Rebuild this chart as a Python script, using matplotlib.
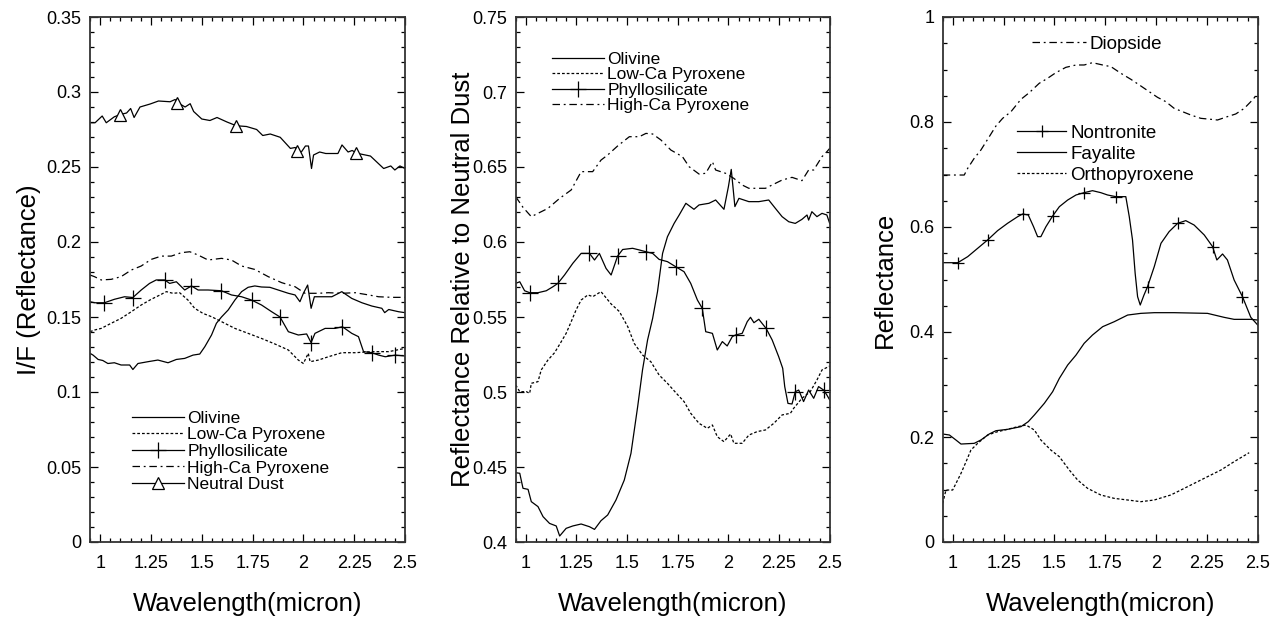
import numpy as np
import matplotlib
matplotlib.use("Agg")
import matplotlib.pyplot as plt
from matplotlib.ticker import MultipleLocator, FuncFormatter

plt.rcParams['font.family'] = ['Liberation Sans', 'DejaVu Sans']

# ---- panel 1: I/F spectra
olivine_1 = [(0.95, 0.1258), (0.965, 0.1246), (0.99, 0.1217), (1.013, 0.121), (1.038, 0.119), (1.07, 0.1195),
             (1.103, 0.118), (1.145, 0.118), (1.161, 0.115), (1.186, 0.119), (1.235, 0.1202), (1.284, 0.1213),
             (1.334, 0.1195), (1.375, 0.1217), (1.416, 0.1224), (1.457, 0.1246), (1.49, 0.1253), (1.515, 0.1302),
             (1.548, 0.138), (1.572, 0.1458), (1.597, 0.150), (1.63, 0.1547), (1.663, 0.1613), (1.696, 0.1669),
             (1.728, 0.1698), (1.761, 0.1707), (1.794, 0.170), (1.835, 0.1698), (1.876, 0.168), (1.926, 0.1658),
             (1.959, 0.1647), (1.983, 0.1602), (2.0, 0.1658), (2.021, 0.1713), (2.038, 0.1558), (2.054, 0.1635),
             (2.09, 0.1635), (2.14, 0.1635), (2.189, 0.1669), (2.238, 0.1624), (2.288, 0.1595), (2.337, 0.1573),
             (2.386, 0.1558), (2.40, 0.1529), (2.42, 0.155), (2.469, 0.1535), (2.5, 0.1529)]
lowca_1 = [(0.95, 0.1402), (0.972, 0.1413), (1.005, 0.1424), (1.054, 0.1458), (1.103, 0.1491), (1.153, 0.1535),
           (1.202, 0.158), (1.251, 0.1618), (1.293, 0.1646), (1.326, 0.1669), (1.358, 0.1658), (1.391, 0.1662),
           (1.432, 0.1613), (1.465, 0.1558), (1.506, 0.1524), (1.548, 0.1502), (1.597, 0.1469), (1.663, 0.1424),
           (1.728, 0.1391), (1.794, 0.1357), (1.86, 0.132), (1.926, 0.128), (1.975, 0.1213), (2.0, 0.119),
           (2.024, 0.1258), (2.033, 0.1202), (2.074, 0.1213), (2.123, 0.1235), (2.189, 0.1262), (2.255, 0.1262),
           (2.337, 0.1269), (2.42, 0.1269), (2.5, 0.1291)]
phyllo_1 = [(0.95, 0.1602), (0.972, 0.1595), (1.021, 0.1595), (1.07, 0.1618), (1.12, 0.1635), (1.161, 0.163),
            (1.202, 0.168), (1.243, 0.1724), (1.276, 0.1747), (1.317, 0.1747), (1.342, 0.1724), (1.375, 0.1735),
            (1.416, 0.168), (1.449, 0.1707), (1.482, 0.168), (1.531, 0.168), (1.597, 0.1675), (1.646, 0.1647),
            (1.696, 0.1635), (1.745, 0.1613), (1.794, 0.158), (1.844, 0.1535), (1.885, 0.150), (1.926, 0.1402),
            (1.975, 0.138), (2.016, 0.1387), (2.038, 0.1329), (2.057, 0.1391), (2.107, 0.1424), (2.156, 0.1424),
            (2.192, 0.1435), (2.238, 0.1391), (2.271, 0.1369), (2.296, 0.1269), (2.337, 0.1262), (2.37, 0.1246),
            (2.403, 0.1235), (2.452, 0.1246), (2.5, 0.124)]
highca_1 = [(0.95, 0.178), (0.972, 0.1769), (1.005, 0.1747), (1.054, 0.1751), (1.103, 0.1769), (1.153, 0.1813),
            (1.202, 0.184), (1.251, 0.1884), (1.301, 0.1906), (1.35, 0.1906), (1.40, 0.1929), (1.441, 0.1935),
            (1.482, 0.1913), (1.531, 0.188), (1.597, 0.1891), (1.646, 0.188), (1.696, 0.184), (1.761, 0.1817),
            (1.827, 0.1769), (1.893, 0.1729), (1.959, 0.1702), (2.008, 0.1658), (2.074, 0.1658), (2.123, 0.1662),
            (2.189, 0.1658), (2.255, 0.1662), (2.321, 0.1647), (2.37, 0.1635), (2.436, 0.1631), (2.5, 0.1631)]
dust_1 = [(0.95, 0.2795), (0.975, 0.2795), (1.01, 0.284), (1.03, 0.2795), (1.07, 0.2835), (1.10, 0.285),
          (1.13, 0.286), (1.15, 0.289), (1.167, 0.283), (1.196, 0.290), (1.246, 0.292), (1.287, 0.294),
          (1.344, 0.2935), (1.369, 0.295), (1.38, 0.293), (1.418, 0.290), (1.443, 0.2922), (1.46, 0.287),
          (1.50, 0.282), (1.54, 0.281), (1.575, 0.283), (1.624, 0.280), (1.67, 0.2775), (1.72, 0.277),
          (1.77, 0.275), (1.80, 0.271), (1.837, 0.272), (1.886, 0.2698), (1.936, 0.2624), (1.96, 0.263),
          (1.97, 0.2605), (1.99, 0.260), (2.01, 0.264), (2.025, 0.264), (2.04, 0.249), (2.05, 0.258), (2.08, 0.26),
          (2.11, 0.259), (2.17, 0.259), (2.19, 0.2647), (2.22, 0.26), (2.24, 0.261), (2.26, 0.2595), (2.28, 0.2587),
          (2.33, 0.2573), (2.395, 0.249), (2.43, 0.2507), (2.45, 0.248), (2.475, 0.2507), (2.5, 0.249)]
phyllo_marks_1 = [1.021, 1.161, 1.317, 1.449, 1.597, 1.745, 1.885, 2.038, 2.192, 2.337, 2.452]
dust_marks_1 = [1.10, 1.38, 1.67, 1.97, 2.26]

# ---- panel 2: ratio to neutral dust
olivine_2 = [(0.95, 0.4462), (0.97, 0.4458), (0.986, 0.4358), (1.011, 0.4351), (1.027, 0.4269), (1.06, 0.4236),
             (1.085, 0.4169), (1.117, 0.4124), (1.15, 0.4107), (1.167, 0.404), (1.199, 0.4091), (1.232, 0.4107),
             (1.273, 0.412), (1.314, 0.4102), (1.339, 0.4084), (1.371, 0.4142), (1.404, 0.418), (1.445, 0.428),
             (1.486, 0.4413), (1.519, 0.4591), (1.552, 0.4902), (1.576, 0.5147), (1.601, 0.5347), (1.626, 0.5491),
             (1.65, 0.5669), (1.675, 0.5924), (1.699, 0.6035), (1.732, 0.6124), (1.757, 0.618), (1.79, 0.6258),
             (1.83, 0.6218), (1.855, 0.6247), (1.904, 0.6258), (1.937, 0.628), (1.978, 0.6218), (2.0, 0.6369),
             (2.014, 0.6484), (2.032, 0.6236), (2.052, 0.6291), (2.101, 0.6269), (2.15, 0.6269), (2.199, 0.628),
             (2.232, 0.6224), (2.265, 0.6169), (2.298, 0.6135), (2.33, 0.6124), (2.363, 0.6151), (2.388, 0.618),
             (2.396, 0.6146), (2.412, 0.6202), (2.437, 0.6169), (2.462, 0.6191), (2.486, 0.618), (2.5, 0.6124)]
lowca_2 = [(0.95, 0.5047), (0.97, 0.5002), (1.003, 0.5002), (1.019, 0.4991), (1.027, 0.5058), (1.06, 0.5069),
           (1.076, 0.5147), (1.109, 0.5213), (1.142, 0.5262), (1.175, 0.5336), (1.199, 0.5391), (1.224, 0.5469),
           (1.248, 0.5547), (1.273, 0.5613), (1.306, 0.5647), (1.331, 0.5636), (1.371, 0.5669), (1.421, 0.5587),
           (1.462, 0.5536), (1.503, 0.5436), (1.535, 0.5324), (1.576, 0.5247), (1.617, 0.5202), (1.658, 0.5113),
           (1.699, 0.5058), (1.74, 0.4996), (1.781, 0.4936), (1.814, 0.4858), (1.855, 0.4791), (1.896, 0.4758),
           (1.921, 0.478), (1.945, 0.4702), (1.978, 0.4669), (2.011, 0.4720), (2.027, 0.4658), (2.068, 0.4658),
           (2.101, 0.4713), (2.142, 0.4736), (2.183, 0.4747), (2.224, 0.4791), (2.265, 0.4847), (2.306, 0.4858),
           (2.322, 0.4891), (2.363, 0.4958), (2.404, 0.5002), (2.437, 0.508), (2.462, 0.5147), (2.5, 0.5173)]
phyllo_2 = [(0.95, 0.5724), (0.97, 0.5735), (0.994, 0.5675), (1.019, 0.5662), (1.06, 0.5662), (1.101, 0.5675),
            (1.134, 0.5702), (1.158, 0.5724), (1.191, 0.578), (1.232, 0.5858), (1.273, 0.5924), (1.314, 0.5924),
            (1.339, 0.588), (1.363, 0.5924), (1.396, 0.5824), (1.421, 0.578), (1.453, 0.5906), (1.478, 0.595),
            (1.527, 0.5958), (1.56, 0.5947), (1.593, 0.5935), (1.626, 0.5924), (1.658, 0.5884), (1.699, 0.5869),
            (1.74, 0.5835), (1.781, 0.5802), (1.814, 0.5724), (1.847, 0.5613), (1.871, 0.5558), (1.888, 0.5402),
            (1.921, 0.5391), (1.945, 0.528), (1.97, 0.5336), (1.994, 0.5307), (2.019, 0.5369), (2.035, 0.538),
            (2.068, 0.5391), (2.093, 0.5469), (2.109, 0.5498), (2.126, 0.5462), (2.15, 0.5485), (2.186, 0.5424),
            (2.216, 0.5347), (2.248, 0.5236), (2.268, 0.5158), (2.278, 0.5036), (2.294, 0.4924), (2.314, 0.492),
            (2.33, 0.5002), (2.347, 0.5013), (2.371, 0.4936), (2.396, 0.5013), (2.421, 0.4958), (2.445, 0.5036),
            (2.47, 0.5013), (2.486, 0.4980), (2.5, 0.4947)]
highca_2 = [(0.95, 0.6302), (0.986, 0.6231), (1.027, 0.6169), (1.109, 0.6224), (1.167, 0.6291), (1.224, 0.6347),
            (1.273, 0.6469), (1.33, 0.6469), (1.371, 0.6546), (1.404, 0.658), (1.453, 0.664), (1.511, 0.6702),
            (1.56, 0.6702), (1.593, 0.6724), (1.626, 0.672), (1.667, 0.668), (1.716, 0.6613), (1.773, 0.6569),
            (1.806, 0.6502), (1.855, 0.6453), (1.888, 0.6458), (1.921, 0.6535), (1.937, 0.648), (1.986, 0.6458),
            (2.027, 0.6424), (2.068, 0.6380), (2.101, 0.6358), (2.183, 0.6358), (2.232, 0.6391), (2.265, 0.6413),
            (2.314, 0.6431), (2.363, 0.6409), (2.396, 0.648), (2.421, 0.648), (2.462, 0.6569), (2.486, 0.6602),
            (2.5, 0.6624)]
phyllo_marks_2 = [1.019, 1.158, 1.314, 1.453, 1.593, 1.74, 1.871, 2.035, 2.186, 2.33, 2.47]

# ---- panel 3: library spectra
diopside = [(0.95, 0.699), (1.056, 0.699), (1.073, 0.7118), (1.105, 0.7308), (1.138, 0.7467), (1.171, 0.7670),
            (1.212, 0.7924), (1.245, 0.8070), (1.286, 0.8197), (1.335, 0.8432), (1.376, 0.8559), (1.425, 0.8737),
            (1.466, 0.8832), (1.507, 0.8940), (1.556, 0.9041), (1.606, 0.9086), (1.646, 0.9086), (1.687, 0.9130),
            (1.737, 0.9086), (1.778, 0.9054), (1.827, 0.8927), (1.876, 0.8813), (1.925, 0.8686), (1.966, 0.8578),
            (2.007, 0.8470), (2.048, 0.8387), (2.089, 0.8260), (2.13, 0.8197), (2.171, 0.8133), (2.22, 0.8070),
            (2.27, 0.8051), (2.302, 0.8038), (2.351, 0.8102), (2.392, 0.8153), (2.434, 0.8260), (2.466, 0.8387),
            (2.5, 0.8534)]
nontronite = [(0.95, 0.532), (1.024, 0.532), (1.073, 0.5435), (1.122, 0.5594), (1.171, 0.5753), (1.220, 0.5930),
              (1.269, 0.607), (1.319, 0.6197), (1.343, 0.6248), (1.371, 0.6229), (1.397, 0.6006), (1.417, 0.5816),
              (1.433, 0.5816), (1.458, 0.6006), (1.491, 0.621), (1.524, 0.6387), (1.565, 0.6514), (1.606, 0.6610),
              (1.646, 0.6654), (1.687, 0.6692), (1.728, 0.6654), (1.761, 0.6610), (1.802, 0.6578), (1.851, 0.6578),
              (1.868, 0.6197), (1.884, 0.5753), (1.897, 0.5118), (1.909, 0.4673), (1.922, 0.4514), (1.94, 0.47),
              (1.958, 0.4864), (1.991, 0.5245), (2.024, 0.5689), (2.064, 0.5911), (2.106, 0.607), (2.146, 0.6121),
              (2.187, 0.6038), (2.237, 0.5848), (2.278, 0.5626), (2.299, 0.5372), (2.327, 0.5486), (2.351, 0.5372),
              (2.384, 0.4991), (2.425, 0.4673), (2.466, 0.428), (2.5, 0.4133)]
fayalite = [(0.95, 0.2057), (0.983, 0.2038), (1.015, 0.1943), (1.04, 0.1866), (1.105, 0.1879), (1.138, 0.1943),
            (1.179, 0.2057), (1.212, 0.212), (1.269, 0.2146), (1.335, 0.2197), (1.371, 0.2292), (1.401, 0.2419),
            (1.45, 0.2641), (1.491, 0.2863), (1.524, 0.3117), (1.565, 0.3371), (1.606, 0.3561), (1.646, 0.3784),
            (1.687, 0.3942), (1.737, 0.4101), (1.794, 0.4196), (1.86, 0.4323), (1.925, 0.4355), (1.991, 0.4368),
            (2.089, 0.4368), (2.253, 0.4355), (2.335, 0.4279), (2.384, 0.4241), (2.466, 0.4241), (2.5, 0.4228)]
orthopyroxene = [(0.95, 0.0736), (0.966, 0.099), (0.999, 0.099), (1.04, 0.1307), (1.065, 0.153), (1.089, 0.1752),
                 (1.122, 0.1879), (1.171, 0.2038), (1.22, 0.2101), (1.269, 0.2146), (1.319, 0.2197), (1.36, 0.2228),
                 (1.401, 0.2133), (1.433, 0.1943), (1.482, 0.1752), (1.524, 0.1625), (1.573, 0.1371), (1.614, 0.118),
                 (1.663, 0.1022), (1.728, 0.0895), (1.794, 0.0831), (1.86, 0.0800), (1.925, 0.0768), (1.991, 0.08),
                 (2.072, 0.0895), (2.122, 0.099), (2.204, 0.1149), (2.253, 0.1244), (2.319, 0.1371), (2.384, 0.153),
                 (2.458, 0.1701)]
nontronite_marks = [1.024, 1.171, 1.343, 1.491, 1.646, 1.802, 1.958, 2.106, 2.278, 2.425]

x_ticks = [1, 1.25, 1.5, 1.75, 2, 2.25, 2.5]

solid = '-'
dotted = (0, (2.2, 1.6))
dashdot = (0, (6, 3, 1.5, 3))
lw = 0.9


def xy(pairs):
    a = np.array(pairs)
    return a[:, 0], a[:, 1]


def idx(x, marks):
    return [int(np.abs(x - m).argmin()) for m in marks]


def style(ax, ymin, ymax, major, minor, ylabel, pad):
    ax.set_xlim(0.95, 2.5)
    ax.set_ylim(ymin, ymax)
    ax.set_xticks(x_ticks)
    ax.xaxis.set_minor_locator(MultipleLocator(0.05))
    ax.yaxis.set_major_locator(MultipleLocator(major))
    ax.yaxis.set_minor_locator(MultipleLocator(minor))
    fmt = FuncFormatter(lambda v, p: '%g' % round(v, 4))
    ax.xaxis.set_major_formatter(fmt)
    ax.yaxis.set_major_formatter(fmt)
    ax.tick_params(which='both', direction='in', top=True, right=True, width=0.9, colors='black', labelsize=13)
    ax.tick_params(which='major', length=6)
    ax.tick_params(which='minor', length=3)
    ax.tick_params(axis='x', pad=9)
    ax.tick_params(axis='y', pad=6)
    for s in ax.spines.values():
        s.set_linewidth(1.3)
        s.set_color('#333333')
    ax.set_xlabel('Wavelength(micron)', fontsize=18.5, labelpad=15)
    ax.set_ylabel(ylabel, fontsize=18.5, labelpad=pad)


def legend(ax, handles, anchor, size, hl, spacing):
    return ax.legend(handles=handles, loc='upper left', bbox_to_anchor=anchor, frameon=False, fontsize=size,
                     handlelength=hl, handletextpad=0.2, labelspacing=spacing, borderpad=0, borderaxespad=0,
                     numpoints=1)


fig = plt.figure(figsize=(12.81, 6.26), dpi=100)
ax1 = fig.add_axes([90 / 1281, 84 / 626, 315 / 1281, 525 / 626])
ax2 = fig.add_axes([515.7 / 1281, 84 / 626, 314 / 1281, 525 / 626])
ax3 = fig.add_axes([942.7 / 1281, 84 / 626, 315 / 1281, 525 / 626])

# panel 1
x, y = xy(olivine_1)
l1, = ax1.plot(x, y, color='black', lw=lw, ls=solid, label='Olivine')
x, y = xy(lowca_1)
l2, = ax1.plot(x, y, color='black', lw=lw, ls=dotted, label='Low-Ca Pyroxene')
x, y = xy(phyllo_1)
l3, = ax1.plot(x, y, color='black', lw=lw, ls=solid, marker='+', ms=12, mew=0.9,
               markevery=idx(x, phyllo_marks_1), label='Phyllosilicate')
x, y = xy(highca_1)
l4, = ax1.plot(x, y, color='black', lw=lw, ls=dashdot, label='High-Ca Pyroxene')
x, y = xy(dust_1)
l5, = ax1.plot(x, y, color='black', lw=lw, ls=solid, marker='^', ms=9, mew=0.9, mfc='white',
               markevery=idx(x, dust_marks_1), label='Neutral Dust')
style(ax1, 0, 0.35, 0.05, 0.01, 'I/F (Reflectance)', 4)
legend(ax1, [l1, l2, l3, l4, l5], (0.133, 0.25), 12.5, 3.0, 0.08)

# panel 2
x, y = xy(olivine_2)
m1, = ax2.plot(x, y, color='black', lw=lw, ls=solid, label='Olivine')
x, y = xy(lowca_2)
m2, = ax2.plot(x, y, color='black', lw=lw, ls=dotted, label='Low-Ca Pyroxene')
x, y = xy(phyllo_2)
m3, = ax2.plot(x, y, color='black', lw=lw, ls=solid, marker='+', ms=12, mew=0.9,
               markevery=idx(x, phyllo_marks_2), label='Phyllosilicate')
x, y = xy(highca_2)
m4, = ax2.plot(x, y, color='black', lw=lw, ls=dashdot, label='High-Ca Pyroxene')
style(ax2, 0.4, 0.75, 0.05, 0.01, 'Reflectance Relative to Neutral Dust', -2)
legend(ax2, [m1, m2, m3, m4], (0.115, 0.933), 12.5, 3.0, 0.0)

# panel 3
x, y = xy(diopside)
n0, = ax3.plot(x, y, color='black', lw=lw, ls=dashdot, label='Diopside')
x, y = xy(nontronite)
n1, = ax3.plot(x, y, color='black', lw=lw, ls=solid, marker='+', ms=8, mew=0.9,
               markevery=idx(x, nontronite_marks), label='Nontronite')
x, y = xy(fayalite)
n2, = ax3.plot(x, y, color='black', lw=lw, ls=solid, label='Fayalite')
x, y = xy(orthopyroxene)
n3, = ax3.plot(x, y, color='black', lw=lw, ls=dotted, label='Orthopyroxene')
style(ax3, 0, 1, 0.2, 0.05, 'Reflectance', 9)
leg = legend(ax3, [n0], (0.283, 0.964), 13.5, 2.9, 0.0)
ax3.add_artist(leg)
legend(ax3, [n1, n2, n3], (0.235, 0.795), 13.5, 2.65, 0.2)

fig.savefig('out.png', dpi=100)
